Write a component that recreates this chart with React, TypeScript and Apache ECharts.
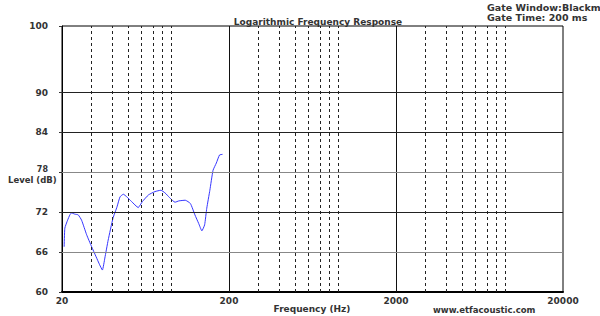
import React, { useEffect, useRef } from "react";
import * as echarts from "echarts";

const freqHz = [20.6, 20.8, 21.6, 22.3, 22.8, 23.9, 25.0, 26.2, 28.1, 30.1, 32.0, 33.6, 34.9, 36.1, 37.8, 40.4, 42.7, 44.5, 46.6, 48.9, 52.2, 57.2, 60.6, 65.9, 72.1, 78.2, 82.8, 88.1, 95.0, 100.2, 109.4, 117.5, 125.0, 131.7, 137.6, 142.9, 147.2, 153.6, 160.5, 168.0, 175.5, 183.0];
const levelDb = [66.8, 69.6, 70.8, 71.6, 71.9, 71.7, 71.6, 70.8, 68.6, 66.8, 65.3, 64.1, 63.3, 65.1, 67.8, 71.1, 72.8, 74.3, 74.7, 74.3, 73.6, 72.7, 73.6, 74.6, 75.1, 75.3, 74.9, 74.2, 73.5, 73.7, 73.8, 73.3, 71.6, 70.3, 69.2, 70.1, 72.6, 75.3, 78.3, 79.4, 80.6, 80.7];

const xTickLabels = [20, 200, 2000, 20000];
const yTickLabels = [60, 66, 72, 78, 84, 90, 100];
const xMajorLines = [200, 2000];
const xMinorLines = [30, 40, 50, 60, 70, 80, 90, 300, 400, 500, 600, 700, 800, 900, 3000, 4000, 5000, 6000, 7000, 8000, 9000];
const yGridLines = [66, 72, 78, 84, 90];
const yNameLevel = 78;

const FONT = "DejaVu Sans";
const TXT = "#333";

export default function App() {
  const ref = useRef<HTMLDivElement>(null);
  useEffect(() => {
    document.body.style.margin = "0";
    const chart = echarts.init(ref.current!, null, { renderer: "svg" });
    const vLines = [
      ...xMinorLines.map((v) => ({ xAxis: v, lineStyle: { type: [3, 3] as any, color: "#222", width: 1 } })),
      ...xMajorLines.map((v) => ({ xAxis: v, lineStyle: { type: "solid" as any, color: "#111", width: 1 } })),
    ];
    const hLines = yGridLines.map((v) => ({
      yAxis: v,
      lineStyle: { type: "solid" as any, color: v === 66 || v === 78 ? "#888" : "#222", width: 1 },
    }));
    const txt = { fontFamily: FONT, fontSize: 9, fontWeight: "bold" as const, color: TXT };
    chart.setOption({
      animation: false,
      title: {
        text: "Logarithmic Frequency Response",
        left: 313,
        top: 12,
        textAlign: "center",
        textStyle: txt,
      },
      grid: {
        left: 62,
        right: 37,
        top: 26,
        bottom: 24,
        outerBoundsMode: "none",
        containLabel: false,
        show: true,
        borderColor: "#000",
        borderWidth: 1,
        backgroundColor: "transparent",
      },
      xAxis: {
        type: "log",
        logBase: 10,
        min: 20,
        max: 20000,
        axisLine: { show: true, lineStyle: { color: "#000", width: 2 } },
        axisTick: { show: false, customValues: xTickLabels },
        axisLabel: {
          ...txt,
          customValues: xTickLabels,
          margin: 4,
          formatter: (v: number) => String(Math.round(v)),
        },
        splitLine: { show: false },
        minorTick: { show: false },
      },
      yAxis: {
        type: "value",
        min: 60,
        max: 100,
        axisLine: { show: true, lineStyle: { color: "#000", width: 1 } },
        axisTick: { show: true, customValues: yTickLabels, length: 3, inside: false, lineStyle: { color: "#333" } },
        axisLabel: {
          ...txt,
          customValues: yTickLabels,
          margin: 14,
          formatter: (v: number) => (v === yNameLevel ? "{u|" + v + "}" : String(v)),
          rich: { u: { ...txt, fontSize: 8, padding: [0, 0, 5, 0] } },
        },
        splitLine: { show: false },
      },
      graphic: [
        { type: "text", left: 487, top: 2, style: { text: "Gate Window:Blackman", fontFamily: FONT, fontSize: 9.5, fontWeight: "bold", fill: TXT } },
        { type: "text", left: 487, top: 12, style: { text: "Gate Time: 200 ms", fontFamily: FONT, fontSize: 9.5, fontWeight: "bold", fill: TXT } },
        { type: "text", left: 8, top: 175, style: { text: "Level (dB)", fontFamily: FONT, fontSize: 8.5, fontWeight: "bold", fill: TXT } },
        { type: "text", x: 312, y: 309, style: { text: "Frequency (Hz)", fontFamily: FONT, fontSize: 9, fontWeight: "bold", fill: TXT, align: "center", verticalAlign: "middle" } },
        { type: "text", left: 433, top: 305, style: { text: "www.etfacoustic.com", fontFamily: FONT, fontSize: 8.5, fontWeight: "bold", fill: TXT } },
      ],
      series: [
        {
          type: "line",
          data: [],
          silent: true,
          markLine: { symbol: "none", silent: true, label: { show: false }, data: [...vLines, ...hLines] },
        },
        {
          type: "line",
          data: freqHz.map((f, i) => [f, levelDb[i]]),
          showSymbol: false,
          smooth: 0.15,
          lineStyle: { color: "#3636ff", width: 1 },
        },
      ],
    });
    return () => chart.dispose();
  }, []);
  return <div ref={ref} style={{ width: 600, height: 316 }} />;
}
